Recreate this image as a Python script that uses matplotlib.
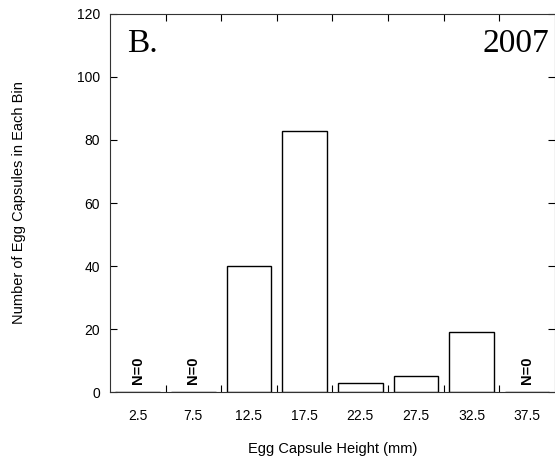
import matplotlib.pyplot as plt
import numpy as np

bin_centers = [2.5, 7.5, 12.5, 17.5, 22.5, 27.5, 32.5, 37.5]
counts = [0, 0, 40, 83, 3, 5, 19, 0]
tick_labels = ["2.5", "7.5", "12.5", "17.5", "22.5", "27.5", "32.5", "37.5"]
bin_edges = [5, 10, 15, 20, 25, 30, 35]

fig = plt.figure(figsize=(5.55, 4.63), dpi=100)
ax = fig.add_axes([0.198, 0.1533, 0.802, 0.8165])

ax.bar(bin_centers, counts, width=4.0, color="white", edgecolor="black", linewidth=1.0)

# empty bins get a rotated N=0 note
for x, c in zip(bin_centers, counts):
    if c == 0:
        ax.text(x, 7, "N=0", rotation=90, ha="center", va="center",
                fontsize=10.5, fontweight="bold", family="Liberation Sans")

ax.set_xlim(0, 40)
ax.set_ylim(0, 120)
ax.set_yticks(np.arange(0, 121, 20))
ax.set_xticks(bin_centers)
ax.set_xticklabels(tick_labels)
ax.set_xticks(bin_edges, minor=True)

ax.tick_params(axis="x", which="major", length=0, pad=12, labelsize=10)
ax.tick_params(axis="x", which="minor", direction="in", length=5, width=0.8,
               top=True, bottom=True)
ax.tick_params(axis="y", direction="in", length=5, width=0.8, right=True,
               labelsize=10, pad=7)
for lab in ax.get_xticklabels() + ax.get_yticklabels():
    lab.set_family("Liberation Sans")

for s in ax.spines.values():
    s.set_linewidth(0.8)
    s.set_color("#333333")

ax.text(2.9, 110.5, "B.", fontsize=24, family="Liberation Serif", ha="center", va="center")
ax.text(39.5, 110.5, "2007", fontsize=24, family="Liberation Serif", ha="right", va="center")

ax.set_xlabel("Egg Capsule Height (mm)", fontsize=10.5, family="Liberation Sans", labelpad=14)
ax.set_ylabel("Number of Egg Capsules in Each Bin", fontsize=10.5, family="Liberation Sans", labelpad=37)

fig.savefig("out.png", dpi=100)
